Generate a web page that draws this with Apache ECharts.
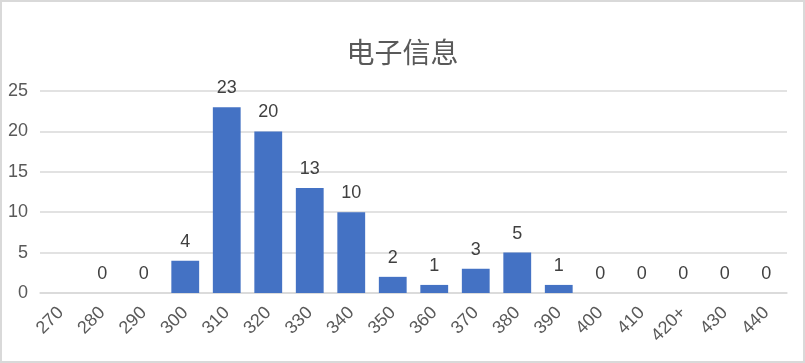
<!DOCTYPE html>
<html><head><meta charset="utf-8">
<script src="https://cdn.jsdelivr.net/npm/echarts@6/dist/echarts.min.js"></script>
<style>
html,body{margin:0;padding:0;background:#fff;}
#c{width:805px;height:363px;box-sizing:border-box;border:2px solid #d9d9d9;}
</style></head>
<body><div id="c"></div>
<script>
const title = "电子信息";
const categories = ["270","280","290","300","310","320","330","340","350","360","370","380","390","400","410","420+","430","440"];
const values = [null,0,0,4,23,20,13,10,2,1,3,5,1,0,0,0,0,0];
const yTicks = {min:0, max:25, interval:5};

const chart = echarts.init(document.getElementById('c'), null, {renderer:'canvas'});
chart.setOption({
  animation:false,
  title:{text:title,left:'center',top:31,textStyle:{fontFamily:'Noto Sans CJK SC',fontSize:28,fontWeight:'normal',color:'#595959'}},
  grid:{left:38,right:16,top:89,bottom:68},
  xAxis:{type:'category',data:categories,
    axisLine:{show:true,lineStyle:{color:'#d9d9d9',width:1.5}},
    axisTick:{show:false},
    axisLabel:{rotate:45,color:'#595959',fontSize:18,fontFamily:'Liberation Sans',margin:17}},
  yAxis:{type:'value',min:yTicks.min,max:yTicks.max,interval:yTicks.interval,
    axisLine:{show:false},axisTick:{show:false},
    splitLine:{lineStyle:{color:'#d9d9d9',width:1.5}},
    axisLabel:{color:'#595959',fontSize:18,fontFamily:'Liberation Sans',margin:12}},
  series:[{type:'bar',data:values,barCategoryGap:'33%',
    itemStyle:{color:'#4472C4'},
    label:{show:true,position:'top',distance:10,color:'#404040',fontSize:18,fontFamily:'Liberation Sans'}}]
});
</script></body></html>
